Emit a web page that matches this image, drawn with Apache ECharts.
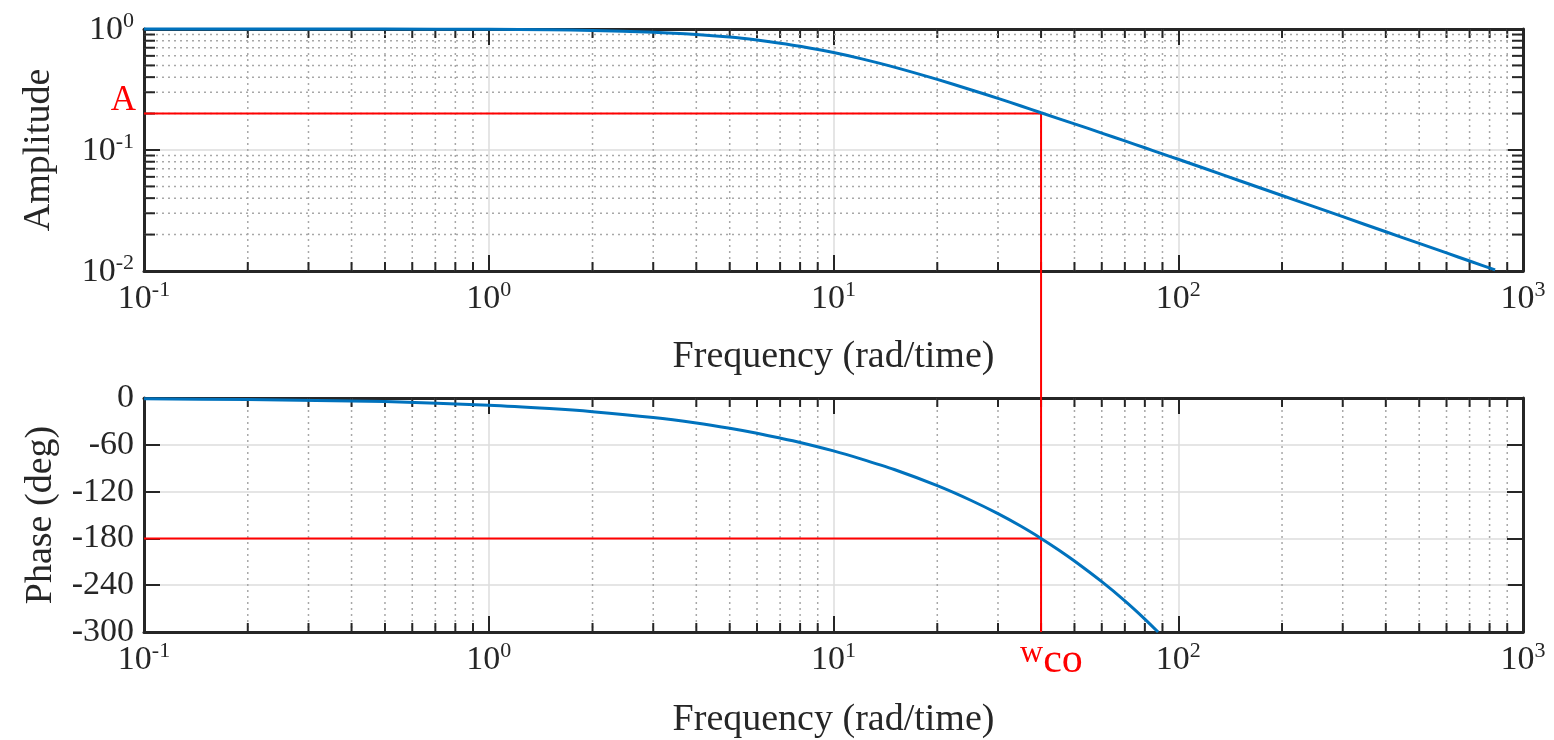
<!DOCTYPE html>
<html><head><meta charset="utf-8">
<script src="https://cdn.jsdelivr.net/npm/echarts@6/dist/echarts.min.js"></script>
<style>html,body{margin:0;padding:0;background:#fff}#c{width:1554px;height:740px}</style>
</head><body><div id="c"></div>
<script>
// ---- data ----
const freqAmp   = [0.1, 0.2, 0.5, 1, 1.5, 2, 3, 4, 5, 6, 7, 8, 10, 12, 15, 20, 25, 30, 35, 40, 50, 60, 70, 80, 90, 100, 120, 150, 200, 250, 300, 400, 500, 600, 700, 830];
const amplitude = [1.0, 1.0, 0.998, 0.993, 0.984, 0.972, 0.9405, 0.901, 0.857, 0.810, 0.764, 0.720, 0.639, 0.569, 0.484, 0.383, 0.315, 0.267, 0.231, 0.203, 0.1645, 0.138, 0.1188, 0.1043, 0.0929, 0.0838, 0.070, 0.056, 0.0421, 0.0337, 0.0281, 0.0211, 0.0169, 0.0141, 0.0121, 0.0102];
const freqPhase = [0.1, 0.2, 0.5, 1, 1.5, 2, 3, 4, 5, 6, 7, 8, 10, 12, 15, 20, 25, 30, 35, 40, 45, 50, 60, 70, 80, 87.4];
const phase     = [-1, -2, -4.6, -9.2, -13.5, -17.5, -25, -32.1, -38.9, -45.3, -51.4, -57, -67.8, -78, -91.7, -112.4, -131.1, -148.3, -164.5, -180, -194.8, -209, -235.5, -260.1, -283.4, -300];
const wco = 40;          // crossover frequency
const ampAtWco = 0.2;    // "A"
const phaseAtWco = -180;
const xRange = [0.1, 1000];
const ampRange = [0.01, 1];
const phaseRange = [-300, 0];
const phaseInterval = 60;
const xLabel = 'Frequency (rad/time)';
const ampLabel = 'Amplitude';
const phaseLabel = 'Phase (deg)';

// minor tick values (2..9 in each decade)
function minors(lo, hi) {
  const out = [];
  for (let d = lo; d < hi * 0.999; d *= 10) for (let m = 2; m <= 9; m++) out.push(d * m);
  return out;
}
const minorX = minors(xRange[0], xRange[1]);
const minorAmp = minors(ampRange[0], ampRange[1]);

const FONT = 'Liberation Serif';
const INK = '#262626';
const BLUE = '#0072BD';
const RED = '#FF0000';
const MINOR = '#a8a8a8';

const powRich = {
  b: { fontSize: 34, fontFamily: FONT, color: INK, verticalAlign: 'bottom', lineHeight: 37 },
  s: { fontSize: 22, fontFamily: FONT, color: INK, verticalAlign: 'top', lineHeight: 37 }
};
function powFmt(v) {
  const e = Math.round(Math.log10(v));
  return '{b|10}{s|' + e + '}';
}

function axisCommon() {
  return {
    axisLine: { show: true, onZero: false, lineStyle: { color: INK, width: 3 } },
    axisTick: { show: true, inside: true, length: 16, lineStyle: { color: INK, width: 2 } },
  };
}

const grids = [
  { left: 144, top: 29, width: 1379, height: 242 },
  { left: 144, top: 398, width: 1379, height: 235 }
];

function xAxisMain(gi, gap) {
  return Object.assign(axisCommon(), {
    type: 'log', logBase: 10, gridIndex: gi, min: xRange[0], max: xRange[1], position: 'bottom',
    axisLabel: { formatter: powFmt, rich: powRich, margin: 8 },
    splitLine: { show: true, lineStyle: { color: '#dcdcdc', width: 1.5 } },
    name: xLabel, nameLocation: 'middle', nameGap: gap,
    nameTextStyle: { fontSize: 38, fontFamily: FONT, color: INK }
  });
}
function xAxisTop(gi) {
  return Object.assign(axisCommon(), {
    type: 'log', logBase: 10, gridIndex: gi, min: xRange[0], max: xRange[1], position: 'top',
    axisLabel: { show: false }, splitLine: { show: false }
  });
}

function minorXSeries(xi, yi, yRef) {
  return {
    type: 'custom', xAxisIndex: xi, yAxisIndex: yi, silent: true, z: 1,
    data: minorX.map(v => [v, yRef]),
    renderItem(params, api) {
      const cs = params.coordSys;
      const x = api.coord([api.value(0), api.value(1)])[0];
      return { type: 'group', children: [
        { type: 'line', shape: { x1: x, y1: cs.y, x2: x, y2: cs.y + cs.height }, style: { stroke: MINOR, lineWidth: 1.5, lineDash: [2, 4] } },
        { type: 'line', shape: { x1: x, y1: cs.y + cs.height, x2: x, y2: cs.y + cs.height - 9 }, style: { stroke: INK, lineWidth: 2 } },
        { type: 'line', shape: { x1: x, y1: cs.y, x2: x, y2: cs.y + 9 }, style: { stroke: INK, lineWidth: 2 } }
      ] };
    }
  };
}

const option = {
  animation: false,
  backgroundColor: '#fff',
  grid: grids,
  xAxis: [xAxisMain(0, 67), xAxisTop(0), xAxisMain(1, 69), xAxisTop(1)],
  yAxis: [
    Object.assign(axisCommon(), {
      type: 'log', logBase: 10, gridIndex: 0, min: ampRange[0], max: ampRange[1], position: 'left',
      axisLabel: { formatter: powFmt, rich: powRich, margin: 10 },
      splitLine: { show: true, lineStyle: { color: '#dcdcdc', width: 1.5 } },
      name: ampLabel, nameLocation: 'middle', nameGap: 86, nameRotate: 90,
      nameTextStyle: { fontSize: 38, fontFamily: FONT, color: INK }
    }),
    Object.assign(axisCommon(), {
      type: 'log', logBase: 10, gridIndex: 0, min: ampRange[0], max: ampRange[1], position: 'right',
      axisLabel: { show: false }, splitLine: { show: false }
    }),
    Object.assign(axisCommon(), {
      type: 'value', gridIndex: 1, min: phaseRange[0], max: phaseRange[1], interval: phaseInterval, position: 'left',
      axisLabel: { fontSize: 34, fontFamily: FONT, color: INK, margin: 10 },
      splitLine: { show: true, lineStyle: { color: '#dcdcdc', width: 1.5 } },
      name: phaseLabel, nameLocation: 'middle', nameGap: 84, nameRotate: 90,
      nameTextStyle: { fontSize: 38, fontFamily: FONT, color: INK }
    }),
    Object.assign(axisCommon(), {
      type: 'value', gridIndex: 1, min: phaseRange[0], max: phaseRange[1], interval: phaseInterval, position: 'right',
      axisLabel: { show: false }, splitLine: { show: false }
    })
  ],
  series: [
    { // 0 amplitude
      type: 'line', xAxisIndex: 0, yAxisIndex: 0, z: 5, clip: false,
      data: freqAmp.map((f, i) => [f, amplitude[i]]),
      showSymbol: false, smooth: 0.25,
      lineStyle: { color: BLUE, width: 3 }
    },
    { // 1 red guide amplitude
      type: 'line', xAxisIndex: 0, yAxisIndex: 0, z: 4,
      data: [[xRange[0], ampAtWco], [wco, ampAtWco], [wco, ampRange[0]]],
      showSymbol: false, lineStyle: { color: RED, width: 2 }
    },
    { // 2 phase
      type: 'line', xAxisIndex: 2, yAxisIndex: 2, z: 5, clip: false,
      data: freqPhase.map((f, i) => [f, phase[i]]),
      showSymbol: false, smooth: 0.25,
      lineStyle: { color: BLUE, width: 3 }
    },
    { // 3 red guide phase
      type: 'line', xAxisIndex: 2, yAxisIndex: 2, z: 4,
      data: [[xRange[0], phaseAtWco], [wco, phaseAtWco], [wco, phaseRange[1]], [wco, phaseRange[0]]],
      showSymbol: false, lineStyle: { color: RED, width: 2 }
    },
    minorXSeries(0, 0, 0.1),
    minorXSeries(2, 2, -150),
    { // minor y grid for amplitude
      type: 'custom', xAxisIndex: 0, yAxisIndex: 0, silent: true, z: 1,
      data: minorAmp.map(v => [1, v]),
      renderItem(params, api) {
        const cs = params.coordSys;
        const y = api.coord([api.value(0), api.value(1)])[1];
        return { type: 'group', children: [
          { type: 'line', shape: { x1: cs.x, y1: y, x2: cs.x + cs.width, y2: y }, style: { stroke: MINOR, lineWidth: 1.5, lineDash: [2, 4] } },
          { type: 'line', shape: { x1: cs.x, y1: y, x2: cs.x + 11, y2: y }, style: { stroke: INK, lineWidth: 2 } },
          { type: 'line', shape: { x1: cs.x + cs.width, y1: y, x2: cs.x + cs.width - 11, y2: y }, style: { stroke: INK, lineWidth: 2 } }
        ] };
      }
    }
  ]
};

const chart = echarts.init(document.getElementById('c'), null, { renderer: 'canvas' });
chart.setOption(option);

// annotations placed through the chart's own scales
const pTopBottom = chart.convertToPixel({ seriesIndex: 1 }, [wco, ampRange[0]]);
const pBotTop = chart.convertToPixel({ seriesIndex: 3 }, [wco, phaseRange[1]]);
const pA = chart.convertToPixel({ seriesIndex: 1 }, [xRange[0], ampAtWco]);
const pW = chart.convertToPixel({ seriesIndex: 3 }, [wco, phaseRange[0]]);
chart.setOption({
  graphic: [
    { type: 'line', z: 10, shape: { x1: pTopBottom[0], y1: pTopBottom[1], x2: pBotTop[0], y2: pBotTop[1] }, style: { stroke: RED, lineWidth: 2 } },
    { type: 'text', z: 10, x: pA[0] - 8, y: pA[1] + 5, style: { text: 'A', fill: RED, font: '35px "Liberation Serif"', align: 'right', verticalAlign: 'bottom' } },
    { type: 'text', z: 10, x: pW[0] - 21, y: pW[1] + 6, style: {
        text: '{w|w}{c|co}', align: 'left', verticalAlign: 'top',
        rich: {
          w: { fontSize: 32, fontFamily: FONT, fill: RED, verticalAlign: 'top', lineHeight: 44 },
          c: { fontSize: 42, fontFamily: FONT, fill: RED, verticalAlign: 'bottom', lineHeight: 44 }
        } } }
  ]
});
</script></body></html>
